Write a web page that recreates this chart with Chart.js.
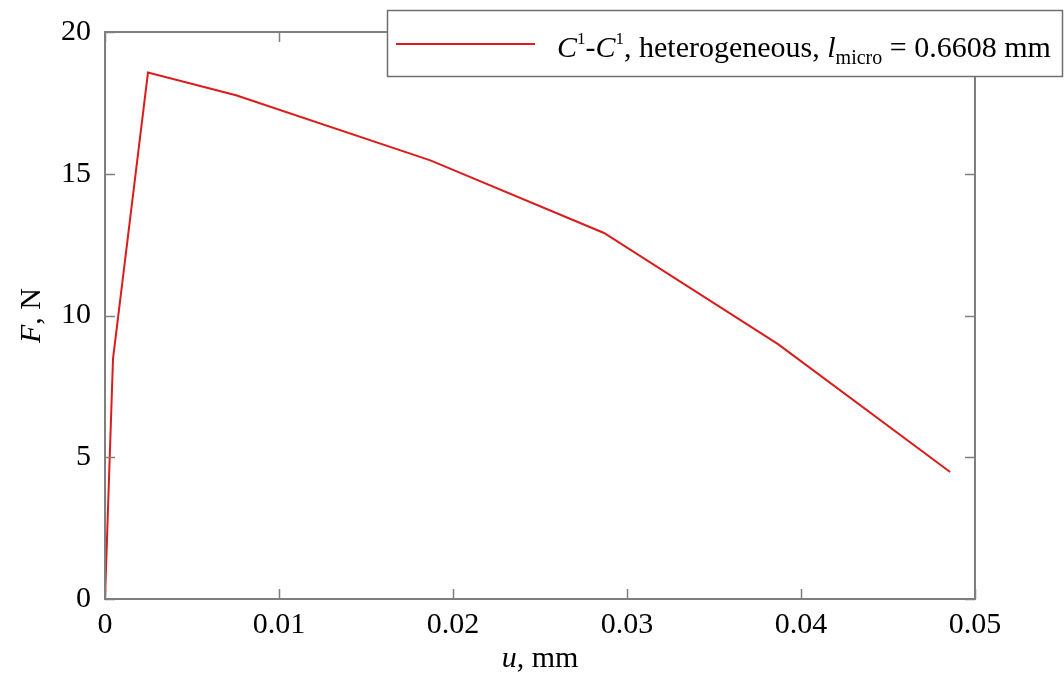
<!DOCTYPE html>
<html>
<head>
<meta charset="utf-8">
<script src="https://cdn.jsdelivr.net/npm/chart.js@4/dist/chart.umd.min.js"></script>
<style>
html,body{margin:0;padding:0;background:#fff;}
#wrap{width:1064px;height:673px;}
</style>
</head>
<body>
<div id="wrap"><canvas id="c" width="1064" height="673"></canvas></div>
<script>
// Data
const displacement = [0, 0.00046, 0.00247, 0.00753, 0.0187, 0.02868, 0.03868, 0.04857];
const force = [0, 8.47, 18.57, 17.77, 15.47, 12.91, 8.99, 4.48];
const xTicks = [0, 0.01, 0.02, 0.03, 0.04, 0.05];
const yTicks = [0, 5, 10, 15, 20];
const seriesName = "C1-C1, heterogeneous, l_micro = 0.6608 mm";

const FONT = "'Liberation Serif', 'DejaVu Serif', serif";
const FS = 30;
const RED = 'rgb(220,28,28)';
const AXIS = '#7f7f7f';

const pts = displacement.map((x, i) => ({x: x, y: force[i]}));

const decor = {
  id: 'decor',
  afterDraw(chart) {
    const ctx = chart.ctx;
    const a = chart.chartArea;
    const xs = chart.scales.x, ys = chart.scales.y;
    ctx.save();
    // ticks inward
    ctx.strokeStyle = AXIS;
    ctx.lineWidth = 1.5;
    const tl = 10;
    ctx.beginPath();
    xTicks.forEach(v => {
      const px = Math.round(xs.getPixelForValue(v)) + 0.5;
      ctx.moveTo(px, a.bottom); ctx.lineTo(px, a.bottom - tl);
      ctx.moveTo(px, a.top); ctx.lineTo(px, a.top + tl);
    });
    yTicks.forEach(v => {
      const py = Math.round(ys.getPixelForValue(v)) + 0.5;
      ctx.moveTo(a.left, py); ctx.lineTo(a.left + tl, py);
      ctx.moveTo(a.right, py); ctx.lineTo(a.right - tl, py);
    });
    ctx.stroke();
    // frame
    ctx.lineWidth = 2;
    ctx.strokeRect(a.left, a.top, a.right - a.left, a.bottom - a.top);

    // axis titles
    ctx.fillStyle = '#000';
    ctx.textBaseline = 'alphabetic';
    const it = "italic " + FS + "px " + FONT, rm = FS + "px " + FONT;
    // x title: "u, mm"
    ctx.font = it;
    const wu = ctx.measureText('u').width;
    ctx.font = rm;
    const wr = ctx.measureText(', mm').width;
    let sx = (a.left + a.right) / 2 - (wu + wr) / 2;
    ctx.font = it;
    ctx.fillText('u', sx, 667);
    ctx.font = rm;
    ctx.fillText(', mm', sx + wu, 667);

    // y title: "F, N"
    ctx.save();
    ctx.translate(40, (a.top + a.bottom) / 2);
    ctx.rotate(-Math.PI / 2);
    ctx.font = it;
    const wf = ctx.measureText('F').width;
    ctx.font = rm;
    const wn = ctx.measureText(', N').width;
    let sy = -(wf + wn) / 2;
    ctx.font = it;
    ctx.fillText('F', sy, 0);
    ctx.font = rm;
    ctx.fillText(', N', sy + wf, 0);
    ctx.restore();

    // legend box
    const lx = 387, ly = 10, lw = 675, lh = 66;
    ctx.fillStyle = '#fff';
    ctx.fillRect(lx, ly, lw, lh);
    ctx.strokeStyle = '#6f6f6f';
    ctx.lineWidth = 1.5;
    ctx.strokeRect(lx + 0.5, ly + 0.5, lw, lh);
    ctx.strokeStyle = RED;
    ctx.lineWidth = 2;
    ctx.beginPath();
    ctx.moveTo(396, 44); ctx.lineTo(535, 44);
    ctx.stroke();
    // legend text pieces
    const base = 57;
    const parts = [
      {t: 'C', f: it, dy: 0},
      {t: '1', f: '17px ' + FONT, dy: -13},
      {t: '-', f: rm, dy: 0},
      {t: 'C', f: it, dy: 0},
      {t: '1', f: '17px ' + FONT, dy: -13},
      {t: ', heterogeneous, ', f: rm, dy: 0},
      {t: 'l', f: it, dy: 0},
      {t: 'micro', f: '20px ' + FONT, dy: 7},
      {t: ' = 0.6608 mm', f: rm, dy: 0}
    ];
    let cx = 557;
    ctx.fillStyle = '#000';
    parts.forEach(p => {
      ctx.font = p.f;
      ctx.fillText(p.t, cx, base + p.dy);
      cx += ctx.measureText(p.t).width;
    });
    ctx.restore();
  }
};

new Chart(document.getElementById('c'), {
  type: 'scatter',
  data: {
    datasets: [{
      label: seriesName,
      data: pts,
      showLine: true,
      borderColor: RED,
      backgroundColor: RED,
      borderWidth: 2,
      pointRadius: 0,
      tension: 0
    }]
  },
  options: {
    responsive: false,
    animation: false,
    devicePixelRatio: 1,
    layout: {padding: {left: 0, right: 89, top: 31, bottom: 0}},
    plugins: {legend: {display: false}, tooltip: {enabled: false}},
    scales: {
      x: {
        type: 'linear', min: 0, max: 0.05,
        afterFit: s => { s.height = 74; },
        afterBuildTicks: s => { s.ticks = xTicks.map(v => ({value: v})); },
        grid: {display: false, drawTicks: false},
        border: {display: false},
        ticks: {
          color: '#000', padding: 8,
          font: {family: FONT, size: FS},
          maxRotation: 0,
          callback: v => (v === 0 ? '0' : String(Number(v.toFixed(2))))
        }
      },
      y: {
        type: 'linear', min: 0, max: 20,
        afterFit: s => { s.width = 105; },
        afterBuildTicks: s => { s.ticks = yTicks.map(v => ({value: v})); },
        grid: {display: false, drawTicks: false},
        border: {display: false},
        ticks: {
          color: '#000', padding: 14,
          font: {family: FONT, size: FS},
          callback: v => String(v)
        }
      }
    }
  },
  plugins: [decor]
});
</script>
</body>
</html>
